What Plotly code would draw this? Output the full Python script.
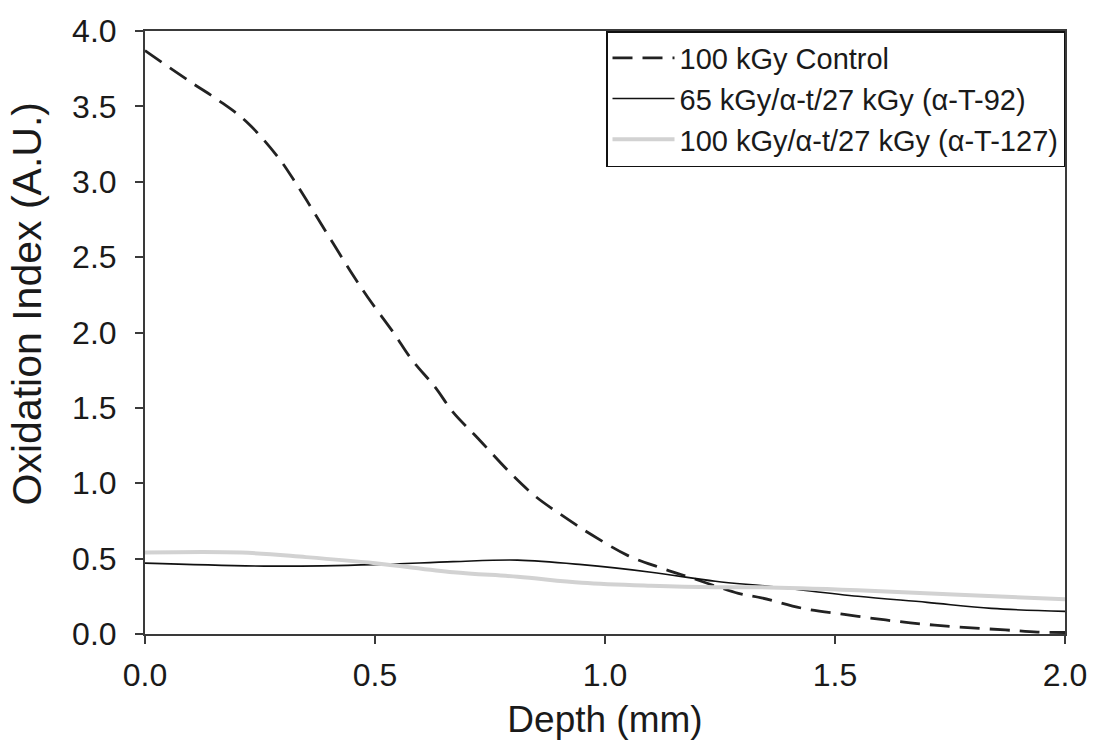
import plotly.graph_objects as go

# Depth-profile readings (depth in mm, oxidation index in A.U.)
control_depth = [0.0, 0.10, 0.16, 0.22, 0.29, 0.33, 0.385, 0.446, 0.485, 0.54, 0.58, 0.63,
                 0.67, 0.72, 0.80, 0.85, 0.91, 0.97, 1.05, 1.12, 1.19, 1.29, 1.34, 1.43,
                 1.52, 1.61, 1.69, 1.77, 1.87, 1.94, 2.0]
control_oi = [3.87, 3.66, 3.54, 3.40, 3.16, 2.98, 2.71, 2.41, 2.23, 2.00, 1.82, 1.64,
              1.47, 1.31, 1.05, 0.91, 0.78, 0.66, 0.52, 0.44, 0.37, 0.27, 0.24, 0.17,
              0.13, 0.093, 0.066, 0.046, 0.027, 0.013, 0.01]

t92_depth = [0.0, 0.28, 0.5, 0.67, 0.81, 0.95, 1.10, 1.24, 1.36, 1.55, 1.70, 1.84, 2.0]
t92_oi = [0.47, 0.45, 0.46, 0.48, 0.49, 0.46, 0.41, 0.35, 0.315, 0.25, 0.21, 0.17, 0.15]

t127_depth = [0.0, 0.21, 0.35, 0.5, 0.67, 0.81, 0.95, 1.10, 1.24, 1.34, 1.55, 1.77, 2.0]
t127_oi = [0.54, 0.54, 0.51, 0.47, 0.41, 0.38, 0.34, 0.32, 0.31, 0.31, 0.29, 0.26, 0.23]

series_names = ["100 kGy Control",
                "65 kGy/\u03b1-t/27 kGy (\u03b1-T-92)",
                "100 kGy/\u03b1-t/27 kGy (\u03b1-T-127)"]

x_ticks = [0.0, 0.5, 1.0, 1.5, 2.0]
y_ticks = [0.0, 0.5, 1.0, 1.5, 2.0, 2.5, 3.0, 3.5, 4.0]

FONT = "Liberation Sans, Arial, sans-serif"
INK = "#1a1a1a"
AXIS = "#3a3a3a"

fig = go.Figure()
fig.add_trace(go.Scatter(x=control_depth, y=control_oi, mode="lines", name=series_names[0],
                         line=dict(color="#222222", width=2.8, dash="20px,10px", shape="spline")))
fig.add_trace(go.Scatter(x=t92_depth, y=t92_oi, mode="lines", name=series_names[1],
                         line=dict(color="#111111", width=1.6, shape="spline")))
fig.add_trace(go.Scatter(x=t127_depth, y=t127_oi, mode="lines", name=series_names[2],
                         line=dict(color="#d2d2d2", width=4, shape="spline")))

fig.update_layout(
    width=1094, height=745,
    margin=dict(l=145, r=29, t=31, b=111),
    paper_bgcolor="white", plot_bgcolor="white",
    font=dict(family=FONT, color=INK),
    legend=dict(x=1, y=1, xanchor="right", yanchor="top",
                bgcolor="white", bordercolor="#111111", borderwidth=1.5,
                font=dict(family=FONT, size=29, color=INK),
                itemwidth=62, tracegroupgap=0),
)
fig.update_xaxes(
    range=[0, 2], tickvals=x_ticks, ticktext=[f"{v:.1f}" for v in x_ticks],
    showgrid=False, zeroline=False, automargin=False,
    showline=True, linecolor=AXIS, linewidth=2, mirror=True,
    ticks="outside", ticklen=8, tickwidth=2, tickcolor=AXIS,
    tickfont=dict(size=32, color=INK), ticklabelstandoff=4,
    title=dict(text="Depth (mm)", font=dict(size=37, color=INK), standoff=14),
)
fig.update_yaxes(
    range=[0, 4], tickvals=y_ticks, ticktext=[f"{v:.1f}" for v in y_ticks],
    showgrid=False, zeroline=False, automargin=False,
    showline=True, linecolor=AXIS, linewidth=2, mirror=True,
    ticks="outside", ticklen=8, tickwidth=2, tickcolor=AXIS,
    tickfont=dict(size=32, color=INK), ticklabelstandoff=12,
)

# Vertical axis title, placed as rotated text left of the tick labels
fig.add_annotation(
    text="Oxidation Index (A.U.)", textangle=-90,
    xref="paper", yref="paper", x=-0.128, y=0.547,
    xanchor="center", yanchor="middle", showarrow=False,
    font=dict(family=FONT, size=41, color=INK),
)

fig.write_html("out.html")
